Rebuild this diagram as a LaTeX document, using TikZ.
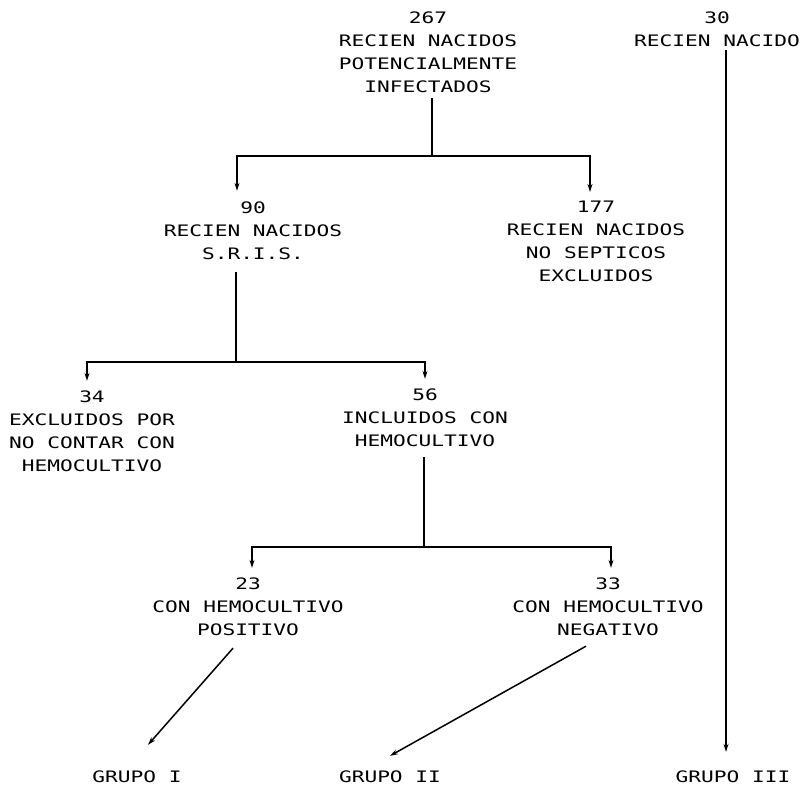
\documentclass[tikz,border=0pt]{standalone}
\usepackage{fontspec}
\usepackage{tikz}
\usetikzlibrary{arrows.meta}
\newfontfamily\puntos[FakeStretch=1.34]{DejaVu Sans Mono}

\begin{document}
\begin{tikzpicture}[x=1pt, y=-1pt,
    every node/.style={inner sep=0pt, align=center, font=\puntos\fontsize{15.8}{23}\selectfont},
    linea/.style={line width=1.5pt},
    flecha/.style={line width=1.5pt, -{Stealth[length=8pt,width=5pt]}}]
            \useasboundingbox (0,0) rectangle (806,788);
            % Nodos
            \node (top) at (428,52.5) {267\\RECIEN NACIDOS\\POTENCIALMENTE\\INFECTADOS};
            \node (n30) at (717,29.5) {30\\RECIEN NACIDO};
            \node (n90) at (253,231) {90\\RECIEN NACIDOS\\S.R.I.S.};
            \node (n177) at (596,241.5) {177\\RECIEN NACIDOS\\NO SEPTICOS\\EXCLUIDOS};
            \node (n34) at (92,431.5) {34\\EXCLUIDOS POR\\NO CONTAR CON\\HEMOCULTIVO};
            \node (n56) at (425,418) {56\\INCLUIDOS CON\\HEMOCULTIVO};
            \node (n23) at (248,607) {23\\CON HEMOCULTIVO\\POSITIVO};
            \node (n33) at (608,607) {33\\CON HEMOCULTIVO\\NEGATIVO};
            \node (g1) at (137,777) {GRUPO I};
            \node (g2) at (390,777) {GRUPO II};
            \node (g3) at (733,777) {GRUPO III};
            \coordinate (j1) at (432,156);
            \coordinate (j2) at (236,362);
            \coordinate (j3) at (424,547);

            % Aristas
            \draw[linea] ([xshift=4pt,yshift=-5pt]top.south) -- (j1);
            \draw[flecha] (j1) -| ([xshift=-16pt,yshift=11pt]n90.north);
            \draw[flecha] (j1) -| ([xshift=-6pt,yshift=9pt]n177.north);
            \draw[linea] ([xshift=-17pt,yshift=-12pt]n90.south) -- (j2);
            \draw[flecha] (j2) -| ([xshift=-5pt,yshift=10pt]n34.north);
            \draw[flecha] (j2) -| ([yshift=10pt]n56.north);
            \draw[linea] ([xshift=-1pt,yshift=-10pt]n56.south) -- (j3);
            \draw[flecha] (j3) -| ([xshift=4pt,yshift=10pt]n23.north);
            \draw[flecha] (j3) -| ([xshift=3pt,yshift=10pt]n33.north);
            \draw[flecha] ([xshift=-15pt,yshift=-12pt]n23.south) -- ([xshift=11pt,yshift=26pt]g1.north);
            \draw[flecha] ([xshift=-22pt,yshift=-10pt]n33.south) -- ([yshift=15pt]g2.north);
            \draw[flecha] ([xshift=9pt,yshift=-3pt]n30.south) -- ([xshift=-7pt,yshift=19pt]g3.north);
          \end{tikzpicture}
\end{document}
